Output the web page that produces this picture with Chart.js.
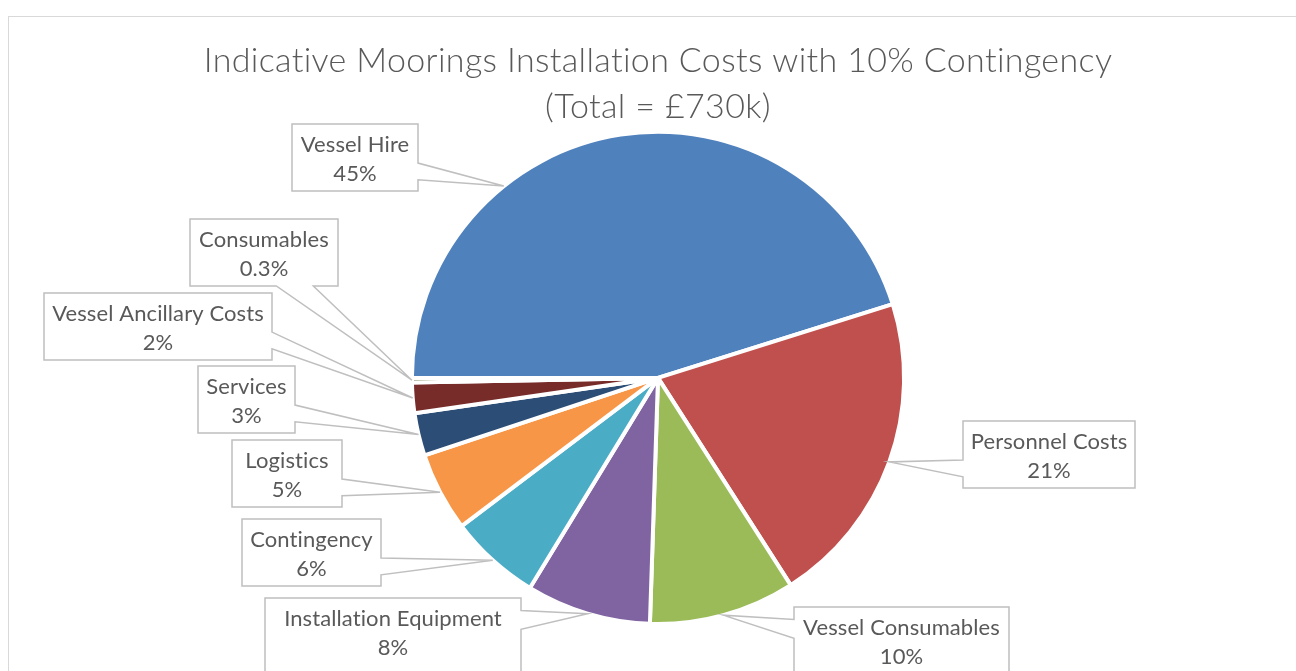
<!DOCTYPE html>
<html><head><meta charset="utf-8">
<script src="https://cdn.jsdelivr.net/npm/chart.js@4.4.0/dist/chart.umd.min.js"></script>
<style>html,body{margin:0;padding:0;background:#fff;}canvas{display:block;}</style>
</head><body>
<canvas id="c" width="1296" height="671"></canvas>
<script>
const categories = ["Vessel Hire","Personnel Costs","Vessel Consumables","Installation Equipment","Contingency","Logistics","Services","Vessel Ancillary Costs","Consumables"];
const shares = [45.2, 20.8, 9.6, 8.2, 6.0, 5.2, 2.8, 2.0, 0.3];
const sliceColors = ["#4F81BD","#C0504D","#9BBB59","#8064A2","#4BACC6","#F79646","#2C4D75","#772C2A","#5F7530"];
const titleLines = ["Indicative Moorings Installation Costs with 10% Contingency","(Total = £730k)"];
// callout label boxes: left, top, width, height, leader anchor position inside slice (0..1)
const calloutBoxes = [
  [292,124,126,67,0.315],
  [963,421,172,67,0.5],
  [794,607,215,75,0.5],
  [265,598,256,75,0.5],
  [242,519,139,67,0.5],
  [232,440,110,67,0.5],
  [198,366,97,67,0.5],
  [44,293,228,67,0.5],
  [190,219,148,67,0.5]
];
const TEXT_COLOR = '#595959';
const LABEL_FONT = '22px Lato';

const framePlugin = {
  id: 'frame',
  beforeDraw(chart) {
    const ctx = chart.ctx;
    ctx.save();
    ctx.fillStyle = '#fff';
    ctx.fillRect(0, 0, chart.width, chart.height);
    ctx.strokeStyle = '#D9D9D9';
    ctx.lineWidth = 1;
    ctx.strokeRect(8.5, 16.5, chart.width + 20, chart.height + 20);
    ctx.restore();
    // slight tracking for the title (also avoids ligatures)
    ctx.letterSpacing = '0.35px';
  },
  beforeDatasetsDraw(chart) {
    chart.ctx.letterSpacing = '0px';
  }
};

const calloutPlugin = {
  id: 'callouts',
  afterDatasetsDraw(chart) {
    const ctx = chart.ctx;
    const meta = chart.getDatasetMeta(0);
    const total = shares.reduce((a, b) => a + b, 0);
    ctx.save();
    meta.data.forEach((arc, i) => {
      const p = arc.getProps(['x','y','startAngle','endAngle','outerRadius'], true);
      const [bx, by, bw, bh, f] = calloutBoxes[i];
      const ang = p.startAngle + (p.endAngle - p.startAngle) * f;
      const tx = p.x + Math.cos(ang) * p.outerRadius;
      const ty = p.y + Math.sin(ang) * p.outerRadius;
      const cx = bx + bw / 2, cy = by + bh / 2;
      const dx = tx - cx, dy = ty - cy;
      const L = bx, R = bx + bw, T = by, B = by + bh;
      ctx.beginPath();
      if (Math.abs(dx) * bh / bw > Math.abs(dy)) {
        const y1 = dy > 0 ? T + bh * 7 / 12 : T + bh * 2 / 12;
        const y2 = dy > 0 ? T + bh * 10 / 12 : T + bh * 5 / 12;
        if (dx > 0) {
          ctx.moveTo(L, T); ctx.lineTo(R, T); ctx.lineTo(R, y1); ctx.lineTo(tx, ty);
          ctx.lineTo(R, y2); ctx.lineTo(R, B); ctx.lineTo(L, B); ctx.closePath();
        } else {
          ctx.moveTo(L, T); ctx.lineTo(R, T); ctx.lineTo(R, B); ctx.lineTo(L, B);
          ctx.lineTo(L, y2); ctx.lineTo(tx, ty); ctx.lineTo(L, y1); ctx.closePath();
        }
      } else {
        const x1 = dx > 0 ? L + bw * 7 / 12 : L + bw * 2 / 12;
        const x2 = dx > 0 ? L + bw * 10 / 12 : L + bw * 5 / 12;
        if (dy > 0) {
          ctx.moveTo(L, T); ctx.lineTo(R, T); ctx.lineTo(R, B); ctx.lineTo(x2, B);
          ctx.lineTo(tx, ty); ctx.lineTo(x1, B); ctx.lineTo(L, B); ctx.closePath();
        } else {
          ctx.moveTo(L, T); ctx.lineTo(x1, T); ctx.lineTo(tx, ty); ctx.lineTo(x2, T);
          ctx.lineTo(R, T); ctx.lineTo(R, B); ctx.lineTo(L, B); ctx.closePath();
        }
      }
      ctx.fillStyle = '#fff';
      ctx.fill();
      ctx.strokeStyle = '#BFBFBF';
      ctx.lineWidth = 1.5;
      ctx.lineJoin = 'miter';
      ctx.stroke();

      const pct = shares[i] / total * 100;
      const pctText = pct < 1 ? pct.toFixed(1) + '%' : Math.round(pct) + '%';
      ctx.fillStyle = TEXT_COLOR;
      ctx.font = LABEL_FONT;
      ctx.letterSpacing = '0.1px';
      ctx.textAlign = 'center';
      ctx.textBaseline = 'alphabetic';
      ctx.fillText(categories[i], cx, by + 28);
      ctx.fillText(pctText, cx, by + 57);
    });
    ctx.restore();
  }
};

new Chart(document.getElementById('c'), {
  type: 'pie',
  data: {
    labels: categories,
    datasets: [{
      data: shares,
      backgroundColor: sliceColors,
      borderColor: '#FFFFFF',
      borderWidth: 4
    }]
  },
  options: {
    responsive: false,
    animation: false,
    devicePixelRatio: 1,
    rotation: -90,
    layout: { padding: { left: 20, right: 0, top: 0, bottom: 45 } },
    plugins: {
      legend: { display: false },
      tooltip: { enabled: false },
      title: {
        display: true,
        text: titleLines,
        color: TEXT_COLOR,
        font: { family: 'Lato', size: 34, weight: '300', lineHeight: 1.35 },
        padding: { top: 38, bottom: 0 }
      }
    }
  },
  plugins: [framePlugin, calloutPlugin]
});
</script>
</body></html>
